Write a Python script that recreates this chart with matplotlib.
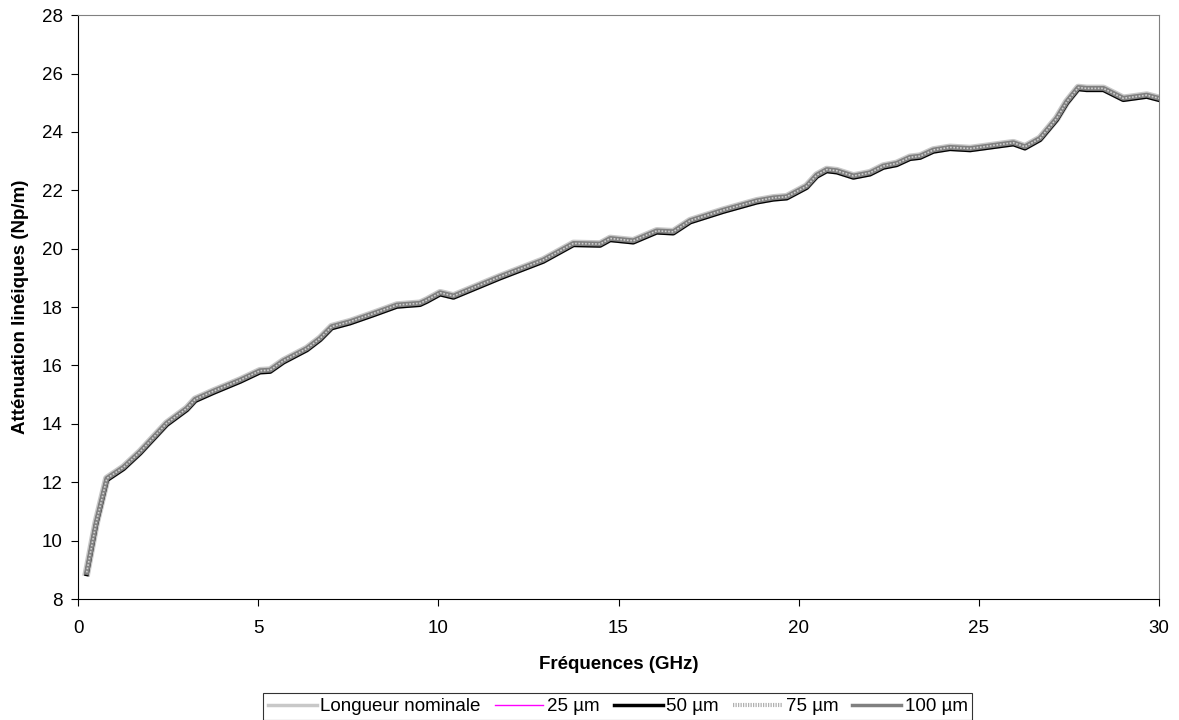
import matplotlib.pyplot as plt
from matplotlib.transforms import ScaledTranslation

plt.rcParams['font.family'] = ['Liberation Sans', 'DejaVu Sans']

# Frequencies (GHz) and attenuation (Np/m)
freq = [0.24, 0.5, 0.8, 1.26, 1.72, 2.46, 3.02, 3.25, 3.76, 4.5, 5.05, 5.33,
        5.7, 6.35, 6.72, 7.04, 7.55, 8.2, 8.85, 9.49, 9.68, 10.05, 10.42,
        11.71, 12.91, 13.75, 14.49, 14.77, 15.41, 16.06, 16.52, 16.99, 17.91,
        18.84, 19.3, 19.67, 20.22, 20.5, 20.78, 21.06, 21.52, 21.98, 22.35,
        22.72, 23.09, 23.37, 23.74, 24.2, 24.76, 25.96, 26.28, 26.7, 27.16,
        27.44, 27.76, 27.99, 28.46, 29.01, 29.66, 30.0]
atten = [8.91, 10.6, 12.13, 12.51, 13.04, 14.02, 14.53, 14.84, 15.12, 15.5,
         15.82, 15.84, 16.16, 16.58, 16.93, 17.33, 17.5, 17.78, 18.07, 18.13,
         18.24, 18.49, 18.38, 19.04, 19.61, 20.18, 20.16, 20.35, 20.27, 20.61,
         20.58, 20.96, 21.32, 21.64, 21.74, 21.78, 22.14, 22.52, 22.71, 22.67,
         22.49, 22.6, 22.83, 22.92, 23.13, 23.17, 23.38, 23.47, 23.43, 23.63,
         23.49, 23.78, 24.46, 25.03, 25.52, 25.49, 25.49, 25.15, 25.26, 25.15]

labels = ['Longueur nominale', '25 µm', '50 µm', '75 µm', '100 µm']

fig = plt.figure(figsize=(11.79, 7.2), dpi=100)
ax = fig.add_axes([0.0662, 0.168, 0.9168, 0.811])

down = ax.transData + ScaledTranslation(0, -1.5 / 100, fig.dpi_scale_trans)

ax.plot(freq, atten, color='#c8c8c8', lw=5.5, label=labels[0], zorder=2)
ax.plot(freq, atten, color='#ff00ff', lw=1, label=labels[1], zorder=3)
ax.plot(freq, atten, color='black', lw=3.2, label=labels[2], zorder=4,
        transform=down)
ax.plot(freq, atten, color='#d0d0d0', lw=1.2, dashes=(1, 1),
        label=labels[3], zorder=6)
ax.plot(freq, atten, color='#808080', lw=3.5, label=labels[4], zorder=5)

ax.set_xlim(0, 30)
ax.set_ylim(8, 28)
ax.set_xticks(range(0, 31, 5))
ax.set_yticks(range(8, 29, 2))
ax.tick_params(direction='out', length=5, labelsize=13.5, colors='black')
ax.tick_params(axis='x', pad=10)
ax.tick_params(axis='y', pad=6)
ax.spines['top'].set_color('#808080')
ax.spines['right'].set_color('#808080')

ax.set_xlabel('Fréquences (GHz)', fontsize=13.5, fontweight='bold', labelpad=14)
ax.set_ylabel('Atténuation linéiques (Np/m)', fontsize=13.5, fontweight='bold',
              labelpad=9)

h, l = ax.get_legend_handles_labels()
leg = fig.legend(h, l, loc='upper center', bbox_to_anchor=(0.524, 0.05),
                 ncol=5, fontsize=13.5, frameon=True, fancybox=False,
                 edgecolor='black', handlelength=2.6, handletextpad=0.2,
                 columnspacing=0.75, borderpad=0.25)
leg.get_frame().set_linewidth(0.8)
leg.legend_handles[3].set_color('#b0b0b0')
leg.legend_handles[3].set_linewidth(3)
leg.legend_handles[3].set_dashes((0.3, 0.3))
leg.legend_handles[0].set_linewidth(2.5)
leg.legend_handles[2].set_linewidth(2.5)
leg.legend_handles[4].set_linewidth(2.5)

fig.savefig('out.png', dpi=100)
